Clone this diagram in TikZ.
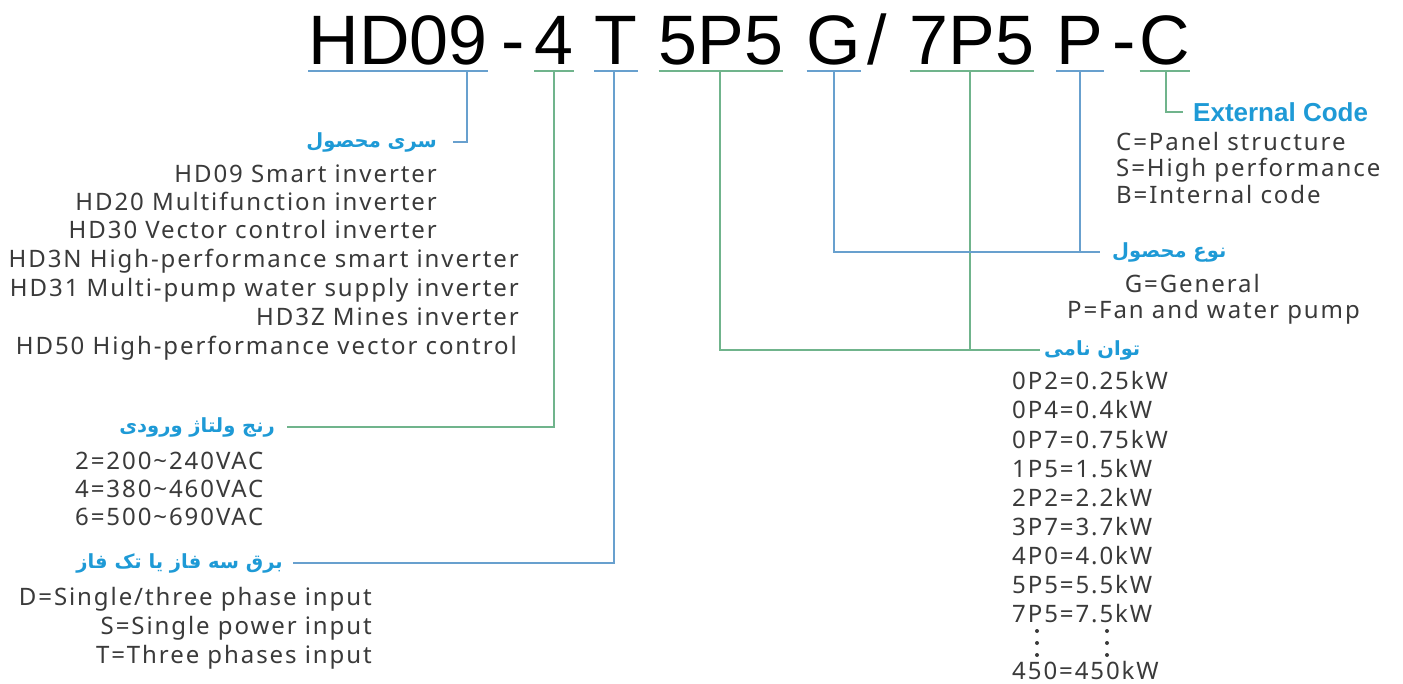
\documentclass[tikz,border=0pt]{standalone}
\usepackage{fontspec}
\setmainfont{Noto Sans}[LetterSpace=8]
\newfontfamily\titlefont{Liberation Sans}
\newfontfamily\fafont[Script=Arabic]{DejaVu Sans}
\TeXXeTstate=1
\usetikzlibrary{positioning}
\definecolor{lineblue}{RGB}{104,160,206}
\definecolor{linegreen}{RGB}{112,180,140}
\definecolor{labelblue}{RGB}{30,154,214}
\definecolor{txtgray}{RGB}{58,58,58}
\tikzset{
  code/.style={font=\titlefont\fontsize{70}{70}\selectfont, inner sep=0pt, anchor=base},
  item/.style={font=\fontsize{24}{24}\selectfont, text=txtgray, inner sep=0pt},
  plabel/.style={font=\fafont\bfseries\fontsize{19.5}{19.5}\selectfont, text=labelblue, inner sep=0pt},
  elabel/.style={font=\titlefont\bfseries\fontsize{26}{26}\selectfont, text=labelblue, inner sep=0pt},
  bl/.style={draw=lineblue, line width=2pt},
  gl/.style={draw=linegreen, line width=2pt},
}
\newcommand{\fa}[1]{\fafont\beginR #1\endR}

\begin{document}
\begin{tikzpicture}[x=1pt,y=-1pt]
    \useasboundingbox[fill=white] (0,0) rectangle (1403,684);
    % model code
    \node[code] (hd) at (398,65) {HD09};
    \node[code] (d1) at (513,65) {-};
    \node[code] (volt) at (554,65) {4};
    \node[code] (ph) at (616,65) {T};
    \node[code] (pw1) at (721,65) {5P5};
    \node[code] (ty1) at (834,65) {G};
    \node[code] (sl) at (877,65) {/};
    \node[code] (pw2) at (972,65) {7P5};
    \node[code] (ty2) at (1080,65) {P};
    \node[code] (d2) at (1124,65) {-};
    \node[code] (ext) at (1165,65) {C};
    % tick points under the code
    \coordinate (hdT) at (467,71);
    \coordinate (voltT) at (554,71);
    \coordinate (phT) at (614,71);
    \coordinate (pw1T) at (720,71);
    \coordinate (ty1T) at (834,71);
    \coordinate (pw2T) at (970,71);
    \coordinate (ty2T) at (1080,71);
    \coordinate (extT) at (1166,71);
    % label ends
    \coordinate (hdE) at (453,142);
    \coordinate (voltE) at (287,427);
    \coordinate (phE) at (293,563);
    \coordinate (pwE) at (1040,350);
    \coordinate (pwJ) at (970,350);
    \coordinate (tyE) at (1100,252);
    \coordinate (tyJ) at (1080,252);
    \coordinate (extE) at (1183,112);
    % labels
    \node[plabel, left=16pt of hdE] (hdL) {\fa{سری محصول}};
    \node[plabel, left=12pt of voltE] (voltL) {\fa{رنج ولتاژ ورودی}};
    \node[plabel, left=10pt of phE] (phL) {\fa{برق سه فاز یا تک فاز}};
    \node[plabel, right=4pt of pwE] (pwL) {\fa{توان نامی}};
    \node[plabel, right=12pt of tyE] (tyL) {\fa{نوع محصول}};
    \node[elabel, right=10pt of extE] (extL) {External Code};
    % series list
    \node[item, anchor=base east] (s1) at (437,183) {HD09 Smart inverter};
    \node[item, anchor=base east] (s2) at (437,211) {HD20 Multifunction inverter};
    \node[item, anchor=base east] (s3) at (437,239) {HD30 Vector control inverter};
    \node[item, anchor=base east] (s4) at (519,268) {HD3N High-performance smart inverter};
    \node[item, anchor=base east] (s5) at (519,297) {HD31 Multi-pump water supply inverter};
    \node[item, anchor=base east] (s6) at (519,326) {HD3Z Mines inverter};
    \node[item, anchor=base east] (s7) at (517,355) {HD50 High-performance vector control};
    % voltage list
    \node[item, anchor=base west] (v1) at (75,469) {2=200\textasciitilde240VAC};
    \node[item, anchor=base west] (v2) at (75,497) {4=380\textasciitilde460VAC};
    \node[item, anchor=base west] (v3) at (75,525) {6=500\textasciitilde690VAC};
    % phase list
    \node[item, anchor=base east] (p1) at (372,605) {D=Single/three phase input};
    \node[item, anchor=base east] (p2) at (372,634) {S=Single power input};
    \node[item, anchor=base east] (p3) at (372,663) {T=Three phases input};
    % external code list
    \node[item, anchor=base west] (e1) at (1116,151) {C=Panel structure};
    \node[item, anchor=base west] (e2) at (1116,177) {S=High performance};
    \node[item, anchor=base west] (e3) at (1116,204) {B=Internal code};
    % type list
    \node[item, anchor=base east] (g1) at (1260,293) {G=General};
    \node[item, anchor=base east] (g2) at (1360,319) {P=Fan and water pump};
    % power list
    \node[item, anchor=base west] (k1) at (1012,390) {0P2=0.25kW};
    \node[item, anchor=base west] (k2) at (1012,419) {0P4=0.4kW};
    \node[item, anchor=base west] (k3) at (1012,448) {0P7=0.75kW};
    \node[item, anchor=base west] (k4) at (1012,477) {1P5=1.5kW};
    \node[item, anchor=base west] (k5) at (1012,506) {2P2=2.2kW};
    \node[item, anchor=base west] (k6) at (1012,535) {3P7=3.7kW};
    \node[item, anchor=base west] (k7) at (1012,564) {4P0=4.0kW};
    \node[item, anchor=base west] (k8) at (1012,593) {5P5=5.5kW};
    \node[item, anchor=base west] (k9) at (1012,622) {7P5=7.5kW};
    \node[item, anchor=base west] (k10) at (1012,679) {450=450kW};
    \fill[txtgray] (1037,631) circle (2) (1037,643) circle (2) (1037,655) circle (2)
                   (1107,631) circle (2) (1107,643) circle (2) (1107,655) circle (2);
    % underlines
    \draw[bl] ([yshift=-6]hd.base west) -- ([yshift=-6]hd.base east);
    \draw[gl] ([yshift=-6]volt.base west) -- ([yshift=-6]volt.base east);
    \draw[bl] ([yshift=-6]ph.base west) -- ([yshift=-6]ph.base east);
    \draw[gl] ([yshift=-6]pw1.base west) -- ([yshift=-6]pw1.base east);
    \draw[bl] ([yshift=-6]ty1.base west) -- ([yshift=-6]ty1.base east);
    \draw[gl] ([yshift=-6]pw2.base west) -- ([yshift=-6]pw2.base east);
    \draw[bl] ([yshift=-6]ty2.base west) -- ([yshift=-6]ty2.base east);
    \draw[gl] ([yshift=-6]ext.base west) -- ([yshift=-6]ext.base east);
    % connectors
    \draw[bl] (hdT) |- (hdE);
    \draw[gl] (voltT) |- (voltE);
    \draw[bl] (phT) |- (phE);
    \draw[gl] (pw1T) |- (pwE);
    \draw[gl] (pw2T) -- (pwJ);
    \draw[bl] (ty1T) |- (tyE);
    \draw[bl] (ty2T) -- (tyJ);
    \draw[gl] (extT) |- (extE);
\end{tikzpicture}
\end{document}
